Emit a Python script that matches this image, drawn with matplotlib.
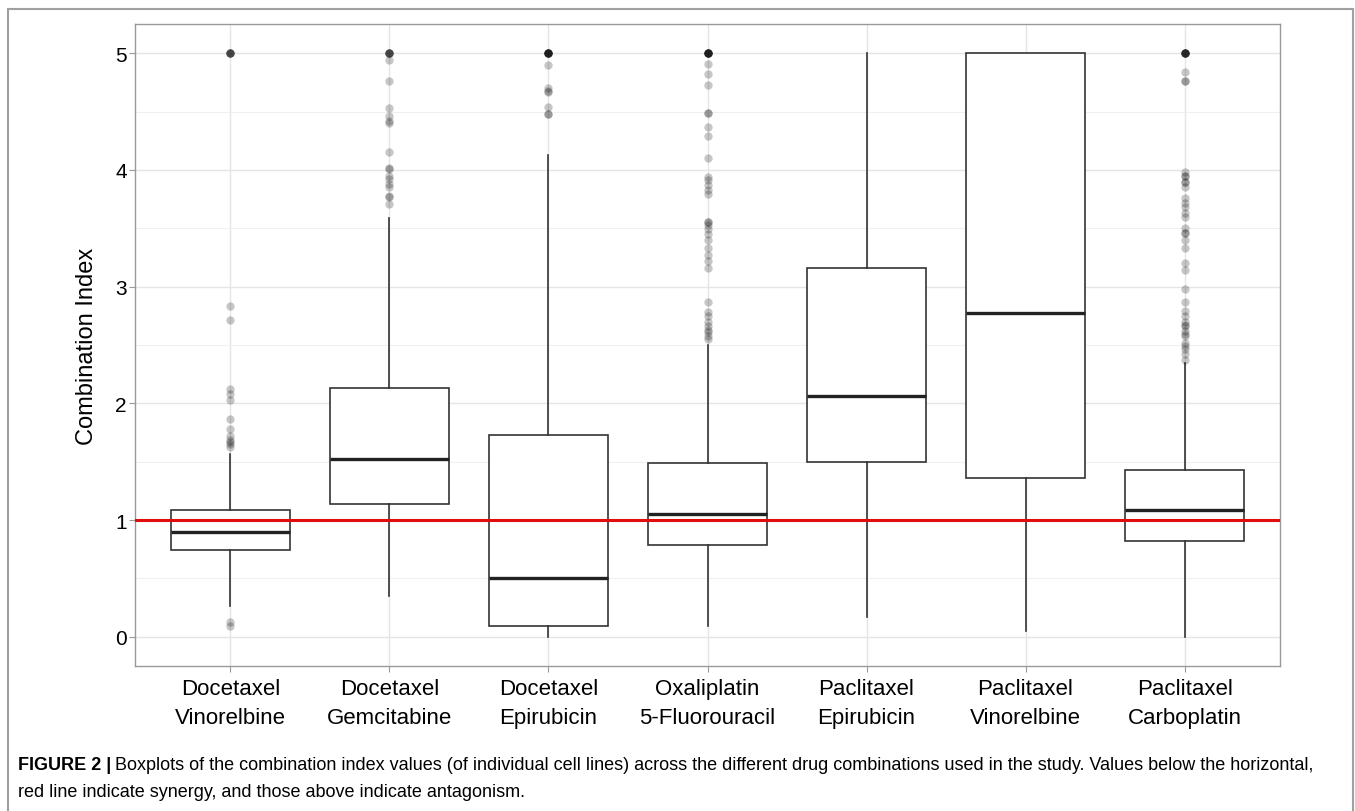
import matplotlib
matplotlib.use("Agg")
import matplotlib.pyplot as plt
from matplotlib.patches import Rectangle
from matplotlib.text import Annotation
from matplotlib.ticker import MultipleLocator

plt.rcParams['font.family'] = ['Liberation Sans', 'DejaVu Sans']

# data
combos = ["Docetaxel\nVinorelbine", "Docetaxel\nGemcitabine", "Docetaxel\nEpirubicin",
          "Oxaliplatin\n5-Fluorouracil", "Paclitaxel\nEpirubicin", "Paclitaxel\nVinorelbine",
          "Paclitaxel\nCarboplatin"]
whislo = [0.26, 0.35, 0.00, 0.09, 0.17, 0.05, 0.00]
q1 = [0.74, 1.14, 0.09, 0.79, 1.50, 1.36, 0.82]
med = [0.90, 1.52, 0.50, 1.05, 2.06, 2.77, 1.09]
q3 = [1.09, 2.13, 1.73, 1.49, 3.16, 5.00, 1.43]
whishi = [1.57, 3.59, 4.13, 2.50, 5.00, 5.00, 2.35]

out_dv = [0.09, 0.13, 1.63, 1.65, 1.67, 1.69, 1.72, 1.78, 1.87, 2.03, 2.08, 2.12, 2.71, 2.83] + [5.0] * 5
out_dg = [3.71, 3.77, 3.78, 3.85, 3.88, 3.92, 3.95, 4.01, 4.02, 4.15, 4.40, 4.42, 4.46, 4.53,
          4.76, 4.94] + [5.0] * 5
out_de = [4.48, 4.48, 4.54, 4.67, 4.68, 4.70, 4.90] + [5.0] * 8
out_of = [2.55, 2.58, 2.61, 2.63, 2.66, 2.70, 2.75, 2.78, 2.87, 3.16, 3.22, 3.27, 3.33, 3.40,
          3.45, 3.49, 3.53, 3.55, 3.55, 3.79, 3.83, 3.87, 3.91, 3.94, 4.10, 4.29, 4.37, 4.49,
          4.49, 4.73, 4.82, 4.91] + [5.0] * 8
out_pe = []
out_pv = []
out_pc = [2.37, 2.42, 2.47, 2.49, 2.52, 2.58, 2.59, 2.62, 2.66, 2.67, 2.70, 2.75, 2.79, 2.87,
          2.98, 3.14, 3.20, 3.33, 3.40, 3.46, 3.46, 3.50, 3.60, 3.63, 3.68, 3.72, 3.76, 3.85,
          3.90, 3.90, 3.95, 3.95, 3.98, 4.76, 4.76, 4.84] + [5.0] * 7
outliers = [out_dv, out_dg, out_de, out_of, out_pe, out_pv, out_pc]

caption_bold = "FIGURE 2 |"
caption_1 = ("Boxplots of the combination index values (of individual cell lines) across the different "
             "drug combinations used in the study. Values below the horizontal,")
caption_2 = "red line indicate synergy, and those above indicate antagonism."

fig = plt.figure(figsize=(13.55, 8.12), dpi=100)
W, H = 1355, 812
ax = fig.add_axes([135 / W, 1 - 667 / H, (1280 - 135) / W, (667 - 25) / H])

stats = []
for i in range(len(combos)):
    stats.append(dict(whislo=whislo[i], q1=q1[i], med=med[i], q3=q3[i],
                      whishi=whishi[i], fliers=outliers[i]))

pos = list(range(1, len(combos) + 1))
ax.bxp(stats, positions=pos, widths=0.75, showcaps=False, patch_artist=True,
       boxprops=dict(facecolor='white', edgecolor='#333333', linewidth=1.2),
       medianprops=dict(color='#222222', linewidth=2.4, solid_capstyle='butt'),
       whiskerprops=dict(color='#333333', linewidth=1.2),
       flierprops=dict(marker='o', markerfacecolor='black', markeredgecolor='none',
                       markersize=6, alpha=0.22),
       zorder=3)

ax.axhline(1, color='#e00d0d', linewidth=2.2, zorder=5)

ax.set_xlim(0.4, 7.6)
ax.set_ylim(-0.25, 5.25)
ax.set_xticks(pos)
ax.set_xticklabels(combos, fontsize=16, linespacing=1.45)
ax.yaxis.set_major_locator(MultipleLocator(1))
ax.yaxis.set_minor_locator(MultipleLocator(0.5))
ax.tick_params(axis='y', which='major', labelsize=15, length=4, color='#999999', pad=2)
ax.tick_params(axis='x', which='major', length=4, color='#999999', pad=5)
ax.tick_params(which='minor', length=0)
ax.set_ylabel("Combination Index", fontsize=17, labelpad=12)

ax.grid(True, which='major', color='#e5e5e5', linewidth=1.0, zorder=0)
ax.grid(True, which='minor', axis='y', color='#f0f0f0', linewidth=0.8, zorder=0)
ax.set_axisbelow(True)
for s in ax.spines.values():
    s.set_color('#999999')
    s.set_linewidth(1.0)

# outer figure frame (open at the bottom)
fig.add_artist(Rectangle((8 / W, -0.05), (1353 - 8) / W, 1 - 10 / H + 0.05,
                         transform=fig.transFigure, fill=False,
                         edgecolor='#a0a0a0', linewidth=1.5))

t1 = fig.text(18 / W, 1 - 770 / H, caption_bold, fontsize=13, fontweight='bold',
              va='baseline', ha='left')
fig.add_artist(Annotation(caption_1, xy=(1, 0), xycoords=t1, xytext=(3, 0),
                          textcoords='offset points', fontsize=13, va='bottom', ha='left'))
fig.text(18 / W, 1 - 797 / H, caption_2, fontsize=13, va='baseline', ha='left')
fig.savefig("out.png", dpi=100)
